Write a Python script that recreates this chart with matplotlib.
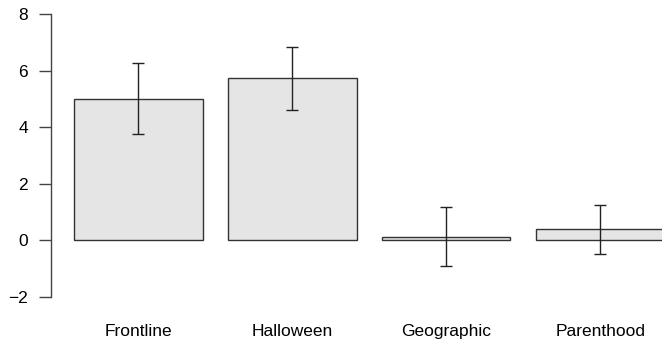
import matplotlib
matplotlib.use("Agg")
import matplotlib.pyplot as plt

categories = ["Frontline", "Halloween", "Geographic", "Parenthood"]
means = [5.0, 5.72, 0.12, 0.38]
errors = [1.25, 1.10, 1.04, 0.87]
y_ticks = [-2, 0, 2, 4, 6, 8]

plt.rcParams["font.family"] = ["Liberation Sans", "DejaVu Sans"]

fig = plt.figure(figsize=(6.62, 3.41), dpi=100)
ax = fig.add_axes([0.0766, 0.0968, 0.9627, 0.8953])

# barplot layout: width 1, gap 0.2 between bars
centers = [0.7 + 1.2 * i for i in range(len(categories))]
ax.bar(centers, means, width=1.0, color="#e5e5e5", edgecolor="#333333",
       linewidth=1.0, zorder=2)
ax.errorbar(centers, means, yerr=errors, fmt="none", ecolor="#222222",
            elinewidth=1.0, capsize=4.3, capthick=1.0, zorder=3)

ax.set_xlim(0.016, 4.984)
ax.set_ylim(-2.4, 8.4)

for side in ["top", "right", "bottom"]:
    ax.spines[side].set_visible(False)
ax.spines["left"].set_bounds(-2, 8)
ax.spines["left"].set_color("#444444")
ax.spines["left"].set_linewidth(1.0)

ax.set_yticks(y_ticks)
ax.set_yticklabels(["\u22122" if t < 0 else str(t) for t in y_ticks])
ax.tick_params(axis="y", length=8.5, width=1.0, color="#444444",
               labelsize=12.5, pad=8)
ax.set_xticks(centers)
ax.set_xticklabels(categories)
ax.tick_params(axis="x", length=0, labelsize=12.5, pad=11.5)

fig.savefig("out.png", dpi=100)
